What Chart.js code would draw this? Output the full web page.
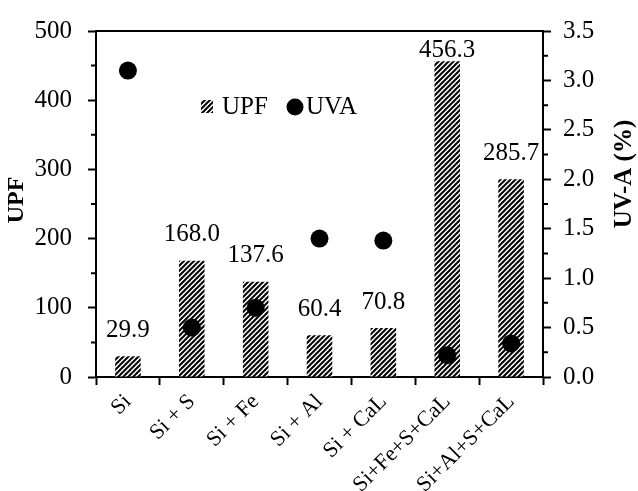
<!DOCTYPE html>
<html>
<head>
<meta charset="utf-8">
<script src="https://cdn.jsdelivr.net/npm/chart.js@4.4.0/dist/chart.umd.min.js"></script>
<style>
  html, body { margin: 0; padding: 0; background: #fff; }
  #wrap { width: 638px; height: 491px; position: relative; }
</style>
</head>
<body>
<div id="wrap"><canvas id="chart" width="638" height="491"></canvas></div>
<script>
// data
const categories = ['Si', 'Si + S', 'Si + Fe', 'Si + Al', 'Si + CaL', 'Si+Fe+S+CaL', 'Si+Al+S+CaL'];
const upfValues = [29.9, 168.0, 137.6, 60.4, 70.8, 456.3, 285.7];
const uvaValues = [3.10, 0.50, 0.70, 1.40, 1.38, 0.22, 0.34];
const upfTicks = [0, 100, 200, 300, 400, 500];
const uvaTicks = [0, 0.5, 1.0, 1.5, 2.0, 2.5, 3.0, 3.5];

const FONT = "'Liberation Serif', serif";
Chart.defaults.font.family = FONT;
Chart.defaults.font.size = 24;
Chart.defaults.color = '#000';

function makeHatch() {
    const s = 5;
    const c = document.createElement('canvas');
    c.width = s; c.height = s;
    const g = c.getContext('2d');
    g.fillStyle = '#fff';
    g.fillRect(0, 0, s, s);
    g.strokeStyle = '#000';
    g.lineWidth = 2;
    g.beginPath();
    g.moveTo(-1, s + 1); g.lineTo(s + 1, -1);
    g.moveTo(-s / 2 - 1, s / 2 + 1); g.lineTo(s / 2 + 1, -s / 2 - 1);
    g.moveTo(s / 2 - 1, 1.5 * s + 1); g.lineTo(1.5 * s + 1, s / 2 - 1);
    g.stroke();
    return g.createPattern(c, 'repeat');
}
const hatch = makeHatch();

// minor ticks, top frame line, axis titles
const decorPlugin = {
    id: 'decor',
    afterDraw(chart) {
        const ctx = chart.ctx;
        const a = chart.chartArea;
        const y = chart.scales.y, y1 = chart.scales.y1;
        ctx.save();
        ctx.strokeStyle = '#000';
        ctx.lineWidth = 2;
        ctx.beginPath();
        ctx.moveTo(a.left - 1, a.top);
        ctx.lineTo(a.right + 1, a.top);
        for (let v = 50; v < 500; v += 100) {
            const p = y.getPixelForValue(v);
            ctx.moveTo(a.left, p); ctx.lineTo(a.left - 5, p);
        }
        for (let v = 0.25; v < 3.5; v += 0.5) {
            const p = y1.getPixelForValue(v);
            ctx.moveTo(a.right, p); ctx.lineTo(a.right + 5, p);
        }
        ctx.stroke();

        ctx.fillStyle = '#000';
        ctx.textAlign = 'center';
        ctx.textBaseline = 'middle';
        ctx.font = 'bold 24px ' + FONT;
        ctx.translate(17, 200);
        ctx.rotate(-Math.PI / 2);
        ctx.fillText('UPF', 0, 0);
        ctx.restore();

        ctx.save();
        ctx.fillStyle = '#000';
        ctx.textAlign = 'center';
        ctx.textBaseline = 'middle';
        ctx.font = 'bold 25px ' + FONT;
        ctx.translate(625, 174);
        ctx.rotate(-Math.PI / 2);
        ctx.fillText('UV-A (%)', 0, 0);
        ctx.restore();
    }
};

// value labels above bars
const barLabelPlugin = {
    id: 'barLabels',
    afterDatasetsDraw(chart) {
        const ctx = chart.ctx;
        const meta = chart.getDatasetMeta(1);
        ctx.save();
        ctx.fillStyle = '#000';
        ctx.font = '25px ' + FONT;
        ctx.textAlign = 'center';
        ctx.textBaseline = 'middle';
        meta.data.forEach((bar, i) => {
            const ly = Math.max(bar.y - 26, chart.chartArea.top + 19);
            ctx.fillText(upfValues[i].toFixed(1), bar.x, ly);
        });
        ctx.restore();
    }
};

// legend inside plot area
const legendPlugin = {
    id: 'innerLegend',
    afterDraw(chart) {
        const ctx = chart.ctx;
        ctx.save();
        ctx.fillStyle = hatch;
        ctx.fillRect(201, 100, 12, 13);
        ctx.fillStyle = '#000';
        ctx.font = '25px ' + FONT;
        ctx.textAlign = 'left';
        ctx.textBaseline = 'middle';
        ctx.fillText('UPF', 222, 107);
        ctx.beginPath();
        ctx.arc(295, 107, 8.5, 0, Math.PI * 2);
        ctx.fill();
        ctx.fillText('UVA', 306, 107);
        ctx.restore();
    }
};

new Chart(document.getElementById('chart'), {
    data: {
        labels: categories,
        datasets: [{
            type: 'line',
            label: 'UVA',
            data: uvaValues,
            yAxisID: 'y1',
            showLine: false,
            pointRadius: 9,
            pointBackgroundColor: '#000',
            pointBorderWidth: 0,
            order: 0
        }, {
            type: 'bar',
            label: 'UPF',
            data: upfValues,
            yAxisID: 'y',
            backgroundColor: hatch,
            borderWidth: 0,
            barPercentage: 0.4,
            categoryPercentage: 1,
            order: 1
        }]
    },
    options: {
        responsive: false,
        animation: false,
        layout: { padding: { top: 25, left: 0, right: 0, bottom: 0 } },
        plugins: { legend: { display: false }, tooltip: { enabled: false } },
        scales: {
            x: {
                offset: true,
                grid: { offset: true, drawOnChartArea: false, tickLength: 8, tickWidth: 2, color: '#000' },
                border: { color: '#000', width: 2 },
                ticks: { maxRotation: 45, minRotation: 45, padding: 4, font: { size: 22 } },
                afterFit(s) { s.height = 114; }
            },
            y: {
                position: 'left',
                min: 0, max: 500,
                afterBuildTicks(s) { s.ticks = upfTicks.map(v => ({ value: v })); },
                grid: { drawOnChartArea: false, tickLength: 8, tickWidth: 2, color: '#000' },
                border: { color: '#000', width: 2 },
                ticks: { padding: 16, font: { size: 25 } },
                afterFit(s) { s.width = 96; }
            },
            y1: {
                position: 'right',
                min: 0, max: 3.5,
                afterBuildTicks(s) { s.ticks = uvaTicks.map(v => ({ value: v })); },
                grid: { drawOnChartArea: false, tickLength: 8, tickWidth: 2, color: '#000' },
                border: { color: '#000', width: 2 },
                ticks: { padding: 12, font: { size: 25 }, callback: v => Number(v).toFixed(1) },
                afterFit(s) { s.width = 95; }
            }
        }
    },
    plugins: [decorPlugin, barLabelPlugin, legendPlugin]
});
</script>
</body>
</html>
